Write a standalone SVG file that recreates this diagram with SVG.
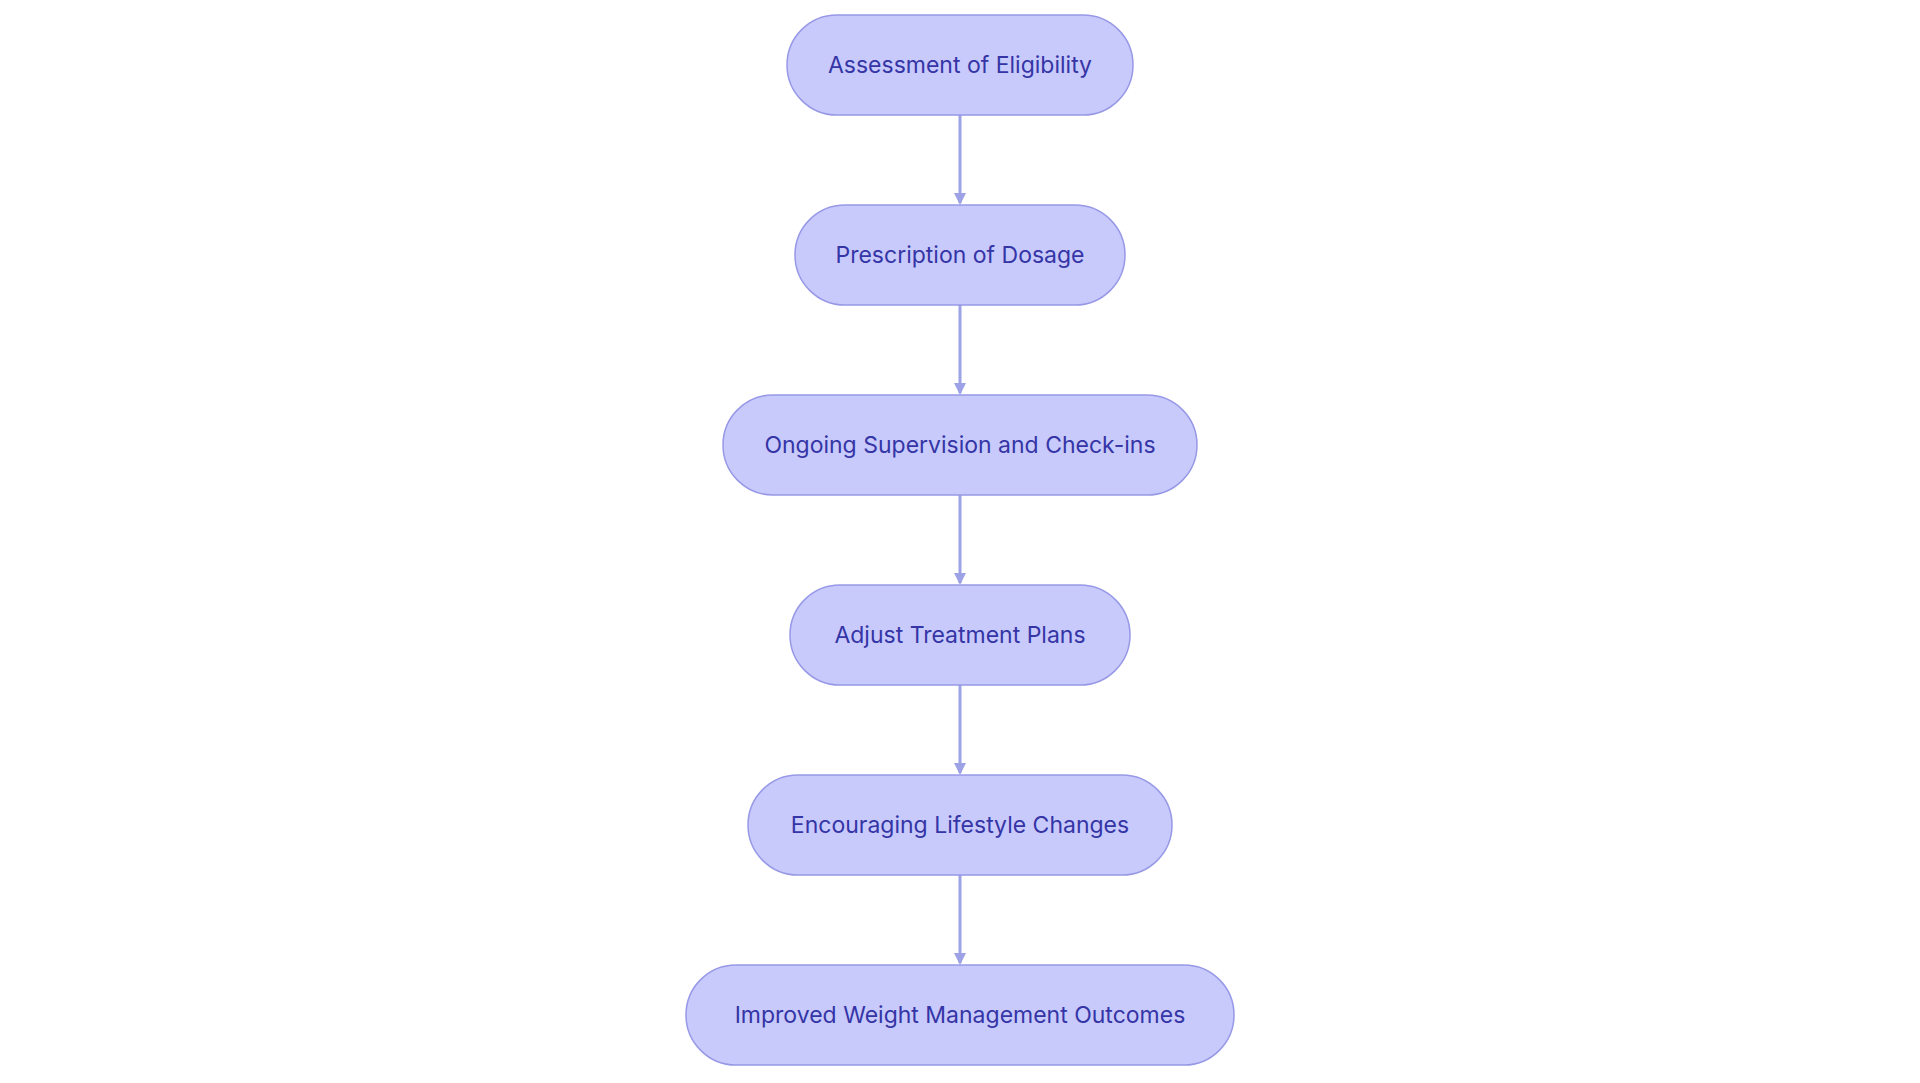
<svg xmlns="http://www.w3.org/2000/svg" width="1920" height="1083" viewBox="0 0 1920 1083">
<style>
.n rect{fill:#c8cafc;stroke:#9799e6;stroke-width:1.5}
.n text{font-family:Inter,"Noto Sans",sans-serif;font-size:23px;fill:#3535a6;text-anchor:middle;dominant-baseline:central}
.e line{stroke:#9da1e6;stroke-width:3}
</style>
<defs><marker id="a" markerWidth="12" markerHeight="12" refX="10" refY="6" orient="auto" markerUnits="userSpaceOnUse"><path d="M0,0 L12,6 L0,12 z" fill="#9da1e6"/></marker></defs>
<rect width="1920" height="1083" fill="#fff"/>
<g class="e">
<line x1="960" y1="115" x2="960" y2="203" marker-end="url(#a)"/>
<line x1="960" y1="305" x2="960" y2="393" marker-end="url(#a)"/>
<line x1="960" y1="495" x2="960" y2="583" marker-end="url(#a)"/>
<line x1="960" y1="685" x2="960" y2="773" marker-end="url(#a)"/>
<line x1="960" y1="875" x2="960" y2="963" marker-end="url(#a)"/>
</g>
<g id="n1" class="n"><rect x="787" y="15" width="346" height="100" rx="50"/><text x="960" y="65">Assessment of Eligibility</text></g>
<g id="n2" class="n"><rect x="795" y="205" width="330" height="100" rx="50"/><text x="960" y="255">Prescription of Dosage</text></g>
<g id="n3" class="n"><rect x="723" y="395" width="474" height="100" rx="50"/><text x="960" y="445">Ongoing Supervision and Check-ins</text></g>
<g id="n4" class="n"><rect x="790" y="585" width="340" height="100" rx="50"/><text x="960" y="635">Adjust Treatment Plans</text></g>
<g id="n5" class="n"><rect x="748" y="775" width="424" height="100" rx="50"/><text x="960" y="825">Encouraging Lifestyle Changes</text></g>
<g id="n6" class="n"><rect x="686" y="965" width="548" height="100" rx="50"/><text x="960" y="1015">Improved Weight Management Outcomes</text></g>
</svg>
